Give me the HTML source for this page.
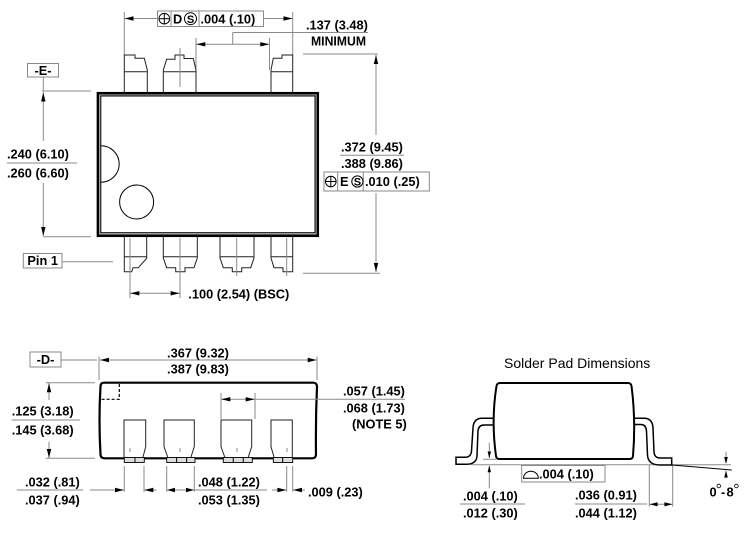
<!DOCTYPE html>
<html><head><meta charset="utf-8"><style>
html,body{margin:0;padding:0;background:#fff;}
svg{display:block;}
text{font-family:"Liberation Sans",Arial,sans-serif;font-weight:bold;font-size:12.8px;fill:#000;}
.g{stroke:#8a8a8a;stroke-width:1;fill:none;}
.k{stroke:#000;stroke-width:1;fill:none;}
.p{stroke:#222;stroke-width:1;fill:#fff;}
.a{fill:#000;stroke:none;}
</style></head><body>
<svg width="750" height="536" viewBox="0 0 750 536" xmlns="http://www.w3.org/2000/svg">

<!-- ================= TOP VIEW ================= -->
<!-- tolerance box top -->
<line class="g" x1="124.3" y1="12" x2="124.3" y2="56"/>
<line class="g" x1="292.7" y1="12" x2="292.7" y2="56"/>
<line class="g" x1="124.3" y1="18.5" x2="157.5" y2="18.5"/>
<line class="g" x1="263.5" y1="18.5" x2="292.7" y2="18.5"/>
<polygon class="a" points="124.5,18.5 133.5,16.3 133.5,20.7"/>
<polygon class="a" points="292.5,18.5 283.5,16.3 283.5,20.7"/>
<rect x="157.5" y="11" width="106" height="15.5" class="g"/>
<line class="g" x1="171" y1="11" x2="171" y2="26.5"/>
<line class="g" x1="199" y1="11" x2="199" y2="26.5"/>
<circle cx="164.3" cy="18.7" r="5.3" class="k"/>
<line class="k" x1="159" y1="18.7" x2="169.6" y2="18.7"/>
<line class="k" x1="164.3" y1="13.4" x2="164.3" y2="24"/>
<text x="173" y="23.3">D</text>
<circle cx="190.5" cy="18.7" r="6" class="k"/>
<text x="190.5" y="22.8" text-anchor="middle" style="font-size:11px">S</text>
<text x="200.5" y="23.3">.004 (.10)</text>

<!-- .137 minimum -->
<text x="306" y="29.5">.137 (3.48)</text>
<line class="g" x1="232.7" y1="32.5" x2="368" y2="32.5"/>
<line class="g" x1="232.7" y1="32.5" x2="232.7" y2="44.3"/>
<line class="g" x1="196" y1="44.3" x2="269.5" y2="44.3"/>
<polygon class="a" points="196.3,44.3 205.3,42.1 205.3,46.5"/>
<polygon class="a" points="269.3,44.3 260.3,42.1 260.3,46.5"/>
<line class="g" x1="196" y1="38" x2="196" y2="70"/>
<line class="g" x1="269.5" y1="38" x2="269.5" y2="70"/>
<text x="311" y="45.5" textLength="55" lengthAdjust="spacingAndGlyphs">MINIMUM</text>

<!-- -E- -->
<rect x="27.5" y="63.5" width="31" height="13.5" class="g"/>
<text x="43" y="74.8" text-anchor="middle">-E-</text>
<line class="g" x1="43.3" y1="77" x2="43.3" y2="91"/>
<line class="g" x1="42" y1="91" x2="91" y2="91"/>
<line class="g" x1="43.3" y1="92" x2="43.3" y2="141"/>
<polygon class="a" points="43.3,92.5 41.1,101.5 45.5,101.5"/>
<text x="7" y="158.5">.240 (6.10)</text>
<line class="g" x1="7" y1="163" x2="77" y2="163"/>
<text x="7" y="177.5">.260 (6.60)</text>
<line class="g" x1="43.3" y1="183" x2="43.3" y2="236"/>
<polygon class="a" points="43.3,236 41.1,227 45.5,227"/>
<line class="g" x1="43" y1="236.7" x2="91" y2="236.7"/>

<!-- top pins -->
<path class="p" d="M124.3,92 V55 H135 V58.3 H144.3 L147.3,70 V92"/>
<line class="p" x1="124.3" y1="71.7" x2="147.3" y2="71.7"/>
<path class="p" d="M163.3,92 V70 L166.7,59.3 H175 V55 H184 V58.5 H193.3 L196,70 V92"/>
<line class="p" x1="163.3" y1="71.7" x2="196" y2="71.7"/>
<line class="g" x1="180" y1="48" x2="180" y2="87"/>
<path class="p" d="M271,92 V70 L273.3,58.3 H282 V55 H292.7 V92"/>
<line class="p" x1="271" y1="71.7" x2="292.7" y2="71.7"/>

<!-- bottom pins -->
<path class="p" d="M124.3,236 V271.7 H131.7 L133,267.7 H138.3 L146.7,258.3 V236"/>
<line class="p" x1="124.3" y1="256.7" x2="146.7" y2="256.7"/>
<path class="p" d="M163.3,236 V258 L166.7,267.7 H175.7 V271.7 H185 V267.7 H194 L197.3,258 V236"/>
<line class="p" x1="163.3" y1="256.7" x2="197.3" y2="256.7"/>
<path class="p" d="M220,236 V258 L223.3,267.7 H232.3 V271.7 H241.7 V267.7 H250.7 L254,258 V236"/>
<line class="p" x1="220" y1="256.7" x2="254" y2="256.7"/>
<path class="p" d="M271,236 V258 L274,267.7 H283 V271.7 H292.7 V236"/>
<line class="p" x1="271" y1="256.7" x2="292.7" y2="256.7"/>
<line class="g" x1="130" y1="238" x2="130" y2="298"/>
<line class="g" x1="180" y1="238" x2="180" y2="298"/>
<line class="g" x1="236.7" y1="238" x2="236.7" y2="276"/>
<line class="g" x1="286.7" y1="238" x2="286.7" y2="276"/>
<line class="g" x1="130" y1="293.3" x2="180" y2="293.3"/>
<polygon class="a" points="130.3,293.3 139.3,291.1 139.3,295.5"/>
<polygon class="a" points="179.7,293.3 170.7,291.1 170.7,295.5"/>
<text x="188.3" y="298.6">.100 (2.54) (BSC)</text>
<rect x="23.3" y="253.5" width="38.7" height="14.5" class="g"/>
<text x="42.7" y="265.2" text-anchor="middle">Pin 1</text>
<line class="g" x1="62" y1="261.7" x2="113" y2="261.7"/>

<!-- body top view -->
<rect x="97.9" y="93.2" width="219.9" height="142.6" fill="#fff" stroke="#000" stroke-width="2.5"/>
<rect x="99.9" y="95.1" width="215.9" height="138.9" fill="none" stroke="#999" stroke-width="1"/>
<rect x="100.8" y="96" width="214.2" height="136.7" fill="none" stroke="#000" stroke-width="1"/>
<path class="k" d="M101,145.8 A18.2,18.2 0 0 1 101,182.2"/>
<circle cx="136.6" cy="202" r="17" class="k"/>

<!-- right .372 -->
<line class="g" x1="303" y1="54" x2="378" y2="54"/>
<line class="g" x1="376" y1="55" x2="376" y2="135"/>
<polygon class="a" points="376,55 373.8,64 378.2,64"/>
<text x="341" y="151.5">.372 (9.45)</text>
<line class="g" x1="340" y1="155.3" x2="404" y2="155.3"/>
<text x="341" y="167.8">.388 (9.86)</text>
<rect x="324" y="172" width="105.3" height="19" class="g"/>
<line class="g" x1="337.7" y1="172" x2="337.7" y2="191"/>
<line class="g" x1="363.3" y1="172" x2="363.3" y2="191"/>
<circle cx="330.8" cy="181.5" r="5.3" class="k"/>
<line class="k" x1="325.5" y1="181.5" x2="336.1" y2="181.5"/>
<line class="k" x1="330.8" y1="176.2" x2="330.8" y2="186.8"/>
<text x="340" y="186">E</text>
<circle cx="357.4" cy="181.5" r="5.6" class="k"/>
<text x="357.4" y="185.5" text-anchor="middle" style="font-size:11px">S</text>
<text x="365" y="186">.010 (.25)</text>
<line class="g" x1="376" y1="193" x2="376" y2="272"/>
<polygon class="a" points="376,272 373.8,263 378.2,263"/>
<line class="g" x1="303" y1="273.3" x2="380" y2="273.3"/>

<!-- ================= SIDE VIEW ================= -->
<rect x="30" y="352" width="31" height="15" class="g"/>
<text x="45.5" y="364.2" text-anchor="middle">-D-</text>
<line class="g" x1="61" y1="360" x2="97" y2="360"/>
<line class="g" x1="99" y1="356.5" x2="99" y2="380"/>
<line class="g" x1="317" y1="356.5" x2="317" y2="380"/>
<line class="g" x1="100" y1="360" x2="317" y2="360"/>
<polygon class="a" points="100,360 109,357.8 109,362.2"/>
<polygon class="a" points="316.7,360 307.7,357.8 307.7,362.2"/>
<text x="198" y="357.6" text-anchor="middle">.367 (9.32)</text>
<text x="198" y="373.6" text-anchor="middle">.387 (9.83)</text>

<!-- left height dims -->
<line class="g" x1="45.7" y1="382.7" x2="95" y2="382.7"/>
<line class="g" x1="45.7" y1="458.3" x2="95" y2="458.3"/>
<line class="g" x1="49" y1="383" x2="49" y2="400"/>
<polygon class="a" points="49,383.2 46.8,392.2 51.2,392.2"/>
<line class="g" x1="49" y1="441.7" x2="49" y2="458"/>
<polygon class="a" points="49,458 46.8,449 51.2,449"/>
<text x="11.7" y="415.5">.125 (3.18)</text>
<line class="g" x1="11.7" y1="420" x2="80" y2="420"/>
<text x="11.7" y="434.5">.145 (3.68)</text>

<!-- body side -->
<path d="M104,382.7 H313 Q317,382.7 317,386.7 Q315.5,420 316,454.3 Q316,458.3 312,458.3 H104.5 Q100.5,458.3 100.5,454.3 Q98.5,420 100.5,386.7 Q100.5,382.7 104,382.7 Z" fill="#fff" stroke="#000" stroke-width="2.2"/>
<path d="M119.3,384 V399.3 H101.5" fill="none" stroke="#000" stroke-width="1.2" stroke-dasharray="3,2"/>

<!-- side pins -->
<path class="p" d="M124,457 V420 H145.7 V446.7 L143,457"/>
<path class="p" d="M167.7,457 L164,446.7 V420 H194.3 V446.7 L191,457"/>
<path class="p" d="M224.7,457 L221,446.7 V420 H251.7 V446.7 L248.3,457"/>
<path class="p" d="M274,457 L271,446.7 V420 H292.3 V457"/>
<g stroke="#000" stroke-width="0.9" fill="#ddd">
<rect x="124.3" y="457.5" width="10.7" height="5"/><rect x="135" y="457.5" width="9.3" height="5"/>
<rect x="166.7" y="457.5" width="10" height="5"/><rect x="176.7" y="457.5" width="10" height="5"/><rect x="186.7" y="457.5" width="8.3" height="5"/>
<rect x="223.3" y="457.5" width="10" height="5"/><rect x="233.3" y="457.5" width="10" height="5"/><rect x="243.3" y="457.5" width="9" height="5"/>
<rect x="273.3" y="457.5" width="9.4" height="5"/><rect x="282.7" y="457.5" width="10" height="5"/>
</g>
<g class="g">
<line x1="130" y1="448" x2="130" y2="452"/><line x1="180" y1="448" x2="180" y2="452"/>
<line x1="237" y1="448" x2="237" y2="452"/><line x1="287" y1="448" x2="287" y2="452"/>
</g>

<!-- .057 dims -->
<line class="g" x1="221" y1="393" x2="221" y2="419"/>
<line class="g" x1="255" y1="393" x2="255" y2="419"/>
<line class="g" x1="221" y1="399.3" x2="340" y2="399.3"/>
<polygon class="a" points="221.3,399.3 230.3,397.1 230.3,401.5"/>
<polygon class="a" points="254.7,399.3 245.7,397.1 245.7,401.5"/>
<line class="g" x1="340" y1="399.3" x2="405" y2="399.3"/>
<text x="343" y="395.5">.057 (1.45)</text>
<text x="343" y="412.5">.068 (1.73)</text>
<text x="352" y="428.6">(NOTE 5)</text>

<!-- bottom dims -->
<g class="g">
<line x1="124.3" y1="466" x2="124.3" y2="491.7"/>
<line x1="144" y1="466" x2="144" y2="491.7"/>
<line x1="166.7" y1="466" x2="166.7" y2="491.7"/>
<line x1="194.3" y1="466" x2="194.3" y2="491.7"/>
<line x1="286.7" y1="466" x2="286.7" y2="491.7"/>
<line x1="292.7" y1="466" x2="292.7" y2="491.7"/>
<line x1="16.7" y1="490" x2="83.3" y2="490"/>
<line x1="90" y1="490" x2="124.3" y2="490"/>
<line x1="144" y1="490" x2="156.7" y2="490"/>
<line x1="166.7" y1="490" x2="267" y2="490"/>
<line x1="272" y1="490" x2="286.7" y2="490"/>
<line x1="292.7" y1="490" x2="305" y2="490"/>
</g>
<polygon class="a" points="124,490 115,487.8 115,492.2"/>
<polygon class="a" points="144.3,490 153.3,487.8 153.3,492.2"/>
<polygon class="a" points="167,490 175,487.8 175,492.2"/>
<polygon class="a" points="194,490 186,487.8 186,492.2"/>
<polygon class="a" points="286.4,490 277.4,487.8 277.4,492.2"/>
<polygon class="a" points="293,490 302,487.8 302,492.2"/>
<text x="25" y="486.6">.032 (.81)</text>
<text x="25" y="504.6">.037 (.94)</text>
<text x="198" y="486.6">.048 (1.22)</text>
<text x="198" y="504.6">.053 (1.35)</text>
<text x="308" y="496.6">.009 (.23)</text>

<!-- ================= SOLDER PAD VIEW ================= -->
<text x="504" y="368" style="font-weight:normal;font-size:14px">Solder Pad Dimensions</text>
<line class="g" x1="471" y1="464.8" x2="731" y2="464.8"/>
<!-- leads -->
<path d="M494,418.3 H482 Q473.5,418.3 473,428 L471.5,451 Q471,457.3 465,457.3 H456 V464.3 H466 Q476.5,464.3 477,456 L478,431 Q478.5,425 484,425 H494" fill="#fff" stroke="#000" stroke-width="1.5"/>
<path d="M633,418.3 H644 Q652.5,418.3 653,428 L654,452 Q654.5,458 660,458 H671.7 V465 H660 Q648,465 647.5,455 L646.5,431 Q646,424.5 641,424.5 H633" fill="#fff" stroke="#000" stroke-width="1.5"/>
<!-- body -->
<path d="M500,383 H628 Q631,383 631.5,386 Q636,420 633,456 Q632.5,459 630,459 H499 Q496.5,459 496,456 Q491,420 496.5,386 Q497,383 500,383 Z" fill="#fff" stroke="#000" stroke-width="2"/>
<!-- standoff dim -->
<line class="g" x1="483" y1="459.3" x2="496" y2="459.3"/>
<line class="g" x1="489.3" y1="442.7" x2="489.3" y2="458"/>
<polygon class="a" points="489.3,458.3 487.6,451.5 491,451.5"/>
<line class="g" x1="489.3" y1="466" x2="489.3" y2="488.3"/>
<polygon class="a" points="489.3,465.5 487.6,472.3 491,472.3"/>
<text x="463" y="500.6">.004 (.10)</text>
<line class="g" x1="460" y1="504" x2="525" y2="504"/>
<text x="463" y="517.6">.012 (.30)</text>
<!-- flatness box -->
<rect x="521.7" y="465.5" width="83.3" height="16.5" class="g"/>
<path d="M523.5,478.3 A7.3,7 0 0 1 538.3,478.3 Z" fill="#fff" stroke="#000" stroke-width="1"/>
<text x="539" y="478.6">.004 (.10)</text>
<!-- foot length dim -->
<line class="g" x1="649.3" y1="465" x2="649.3" y2="506.7"/>
<line class="g" x1="672.7" y1="465" x2="672.7" y2="506.7"/>
<line class="g" x1="649.3" y1="504.3" x2="672.7" y2="504.3"/>
<polygon class="a" points="649.6,504.3 657.6,502.2 657.6,506.4"/>
<polygon class="a" points="672.4,504.3 664.4,502.2 664.4,506.4"/>
<text x="575" y="499.6">.036 (0.91)</text>
<line class="g" x1="575" y1="504" x2="647" y2="504"/>
<text x="575" y="517.6">.044 (1.12)</text>
<!-- angle -->
<line x1="672" y1="465" x2="731.7" y2="470" stroke="#000" stroke-width="0.9"/>
<line class="g" x1="726" y1="451.7" x2="726" y2="463"/>
<polygon class="a" points="726,464 724.2,457 727.8,457"/>
<line class="g" x1="726" y1="471" x2="726" y2="478.3"/>
<polygon class="a" points="726,470.5 724.2,477.5 727.8,477.5"/>
<text x="709.5" y="496.6">0</text>
<circle cx="718.8" cy="486" r="1.8" fill="none" stroke="#000" stroke-width="0.8"/>
<text x="721" y="496.6">-</text>
<text x="726.5" y="496.6">8</text>
<circle cx="736.4" cy="486" r="1.8" fill="none" stroke="#000" stroke-width="0.8"/>

</svg>
</body></html>
